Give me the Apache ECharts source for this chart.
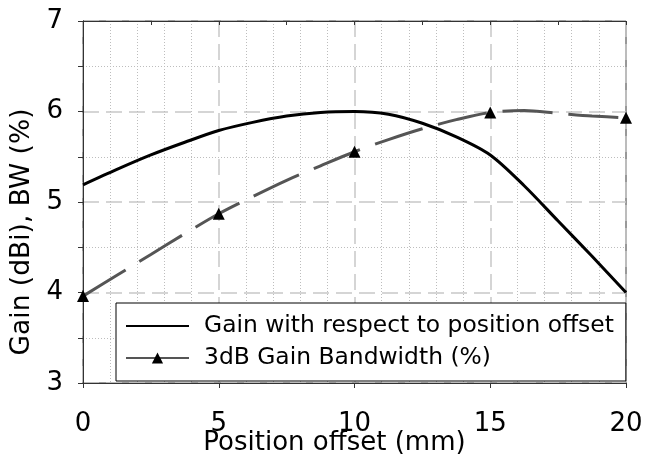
<!DOCTYPE html>
<html>
<head>
<meta charset="utf-8">
<script src="https://cdn.jsdelivr.net/npm/echarts@6/dist/echarts.min.js"></script>
<style>html,body{margin:0;padding:0;background:#fff;}#c{width:645px;height:465px;}</style>
</head>
<body>
<div id="c"></div>
<script>
const positions = [0, 1.25, 2.5, 3.75, 5, 6.25, 7.5, 8.75, 10, 11.25, 12.5, 13.75, 15, 16.25, 17.5, 18.75, 20];
const gainValues = [5.19, 5.36, 5.52, 5.66, 5.79, 5.88, 5.95, 5.99, 6.0, 5.97, 5.87, 5.72, 5.52, 5.18, 4.79, 4.40, 4.0];
const bwValues = [3.96, 4.19, 4.42, 4.65, 4.87, 5.06, 5.24, 5.40, 5.555, 5.69, 5.81, 5.91, 5.99, 6.01, 5.98, 5.95, 5.93];
const bwMarkerPositions = [0, 5, 10, 15, 20];
const xTicks = [0, 5, 10, 15, 20];
const yTicks = [3, 4, 5, 6, 7];
const gainName = 'Gain with respect to position offset';
const bwName = '3dB Gain Bandwidth (%)';

const FONT = 'DejaVu Sans';
const gainData = positions.map((x, i) => [x, gainValues[i]]);
const bwData = positions.map((x, i) => (
  bwMarkerPositions.indexOf(x) >= 0 ? {value: [x, bwValues[i]]} : {value: [x, bwValues[i]], symbol: 'none'}
));

const chart = echarts.init(document.getElementById('c'), null, {renderer: 'canvas'});
chart.setOption({
  animation: false,
  backgroundColor: '#fff',
  grid: {left: 83, right: 19, top: 21, bottom: 82, containLabel: false, outerBoundsMode: 'none',
    show: true, borderColor: '#333', borderWidth: 1, backgroundColor: 'transparent'},
  xAxis: [{
    type: 'value', position: 'bottom',
    min: xTicks[0], max: xTicks[xTicks.length - 1], interval: 5,
    name: 'Position offset (mm)', nameLocation: 'middle', nameGap: 47, nameMoveOverlap: false,
    nameTextStyle: {fontFamily: FONT, fontSize: 26, color: '#000', padding: [0, 40, 0, 0]},
    axisLine: {show: true, lineStyle: {color: '#333', width: 1}},
    axisTick: {show: true, inside: false, length: 5, lineStyle: {color: '#333'}},
    minorTick: {show: false},
    axisLabel: {fontFamily: FONT, fontSize: 26, color: '#000', margin: 28},
    splitLine: {show: true, lineStyle: {color: '#c8c8c8', width: 1.5, type: [16, 7]}},
    minorSplitLine: {show: true, lineStyle: {color: '#bdbdbd', width: 1, type: [1, 2]}}
  }, {
    type: 'value', position: 'top',
    min: xTicks[0], max: xTicks[xTicks.length - 1], interval: 2.5,
    axisLine: {show: true, lineStyle: {color: '#333'}},
    axisTick: {show: true, inside: true, length: 4, lineStyle: {color: '#333'}},
    axisLabel: {show: false}, splitLine: {show: false}
  }],
  yAxis: [{
    type: 'value', position: 'left',
    min: yTicks[0], max: yTicks[yTicks.length - 1], interval: 1,
    name: 'Gain (dBi), BW (%)', nameLocation: 'middle', nameGap: 47, nameMoveOverlap: false,
    nameTextStyle: {fontFamily: FONT, fontSize: 26.5, color: '#000', padding: [0, 60, 0, 0]},
    axisLine: {show: true, lineStyle: {color: '#333', width: 1}},
    axisTick: {show: true, inside: false, length: 5, lineStyle: {color: '#333'}},
    minorTick: {show: true, splitNumber: 2, length: 5, lineStyle: {color: '#333'}},
    axisLabel: {fontFamily: FONT, fontSize: 26, color: '#000', margin: 20},
    splitLine: {show: true, lineStyle: {color: '#c8c8c8', width: 1.5, type: [16, 7]}},
    minorSplitLine: {show: true, lineStyle: {color: '#bdbdbd', width: 1, type: [1, 2]}}
  }, {
    type: 'value', position: 'right',
    min: yTicks[0], max: yTicks[yTicks.length - 1], interval: 0.5,
    axisLine: {show: true, lineStyle: {color: '#333'}},
    axisTick: {show: true, inside: true, length: 4, lineStyle: {color: '#333'}},
    axisLabel: {show: false}, splitLine: {show: false}
  }],
  legend: {
    orient: 'vertical', left: 116, top: 303,
    backgroundColor: '#fff', borderColor: '#000', borderWidth: 1, borderRadius: 0,
    padding: [10, 12, 10, 9],
    itemWidth: 63, itemHeight: 14, itemGap: 6,
    textStyle: {fontFamily: FONT, fontSize: 23.4, color: '#000', lineHeight: 26, padding: [0, 0, 0, 10]},
    data: [
      {name: gainName, itemStyle: {color: 'rgba(0,0,0,0)', borderColor: 'rgba(0,0,0,0)', borderWidth: 0}},
      {name: bwName, lineStyle: {type: 'solid'}}
    ]
  },
  series: [{
    name: bwName, type: 'line', xAxisIndex: 0, yAxisIndex: 0,
    data: bwData, smooth: 0.3,
    symbol: 'triangle', symbolSize: 12,
    itemStyle: {color: '#000'},
    lineStyle: {color: '#555', width: 3, type: [50, 16]},
    z: 2
  }, {
    name: gainName, type: 'line', xAxisIndex: 0, yAxisIndex: 0,
    data: gainData, smooth: 0.3, showSymbol: false, symbol: 'circle',
    itemStyle: {color: '#000'},
    lineStyle: {color: '#000', width: 3},
    z: 3
  }]
});
</script>
</body>
</html>
